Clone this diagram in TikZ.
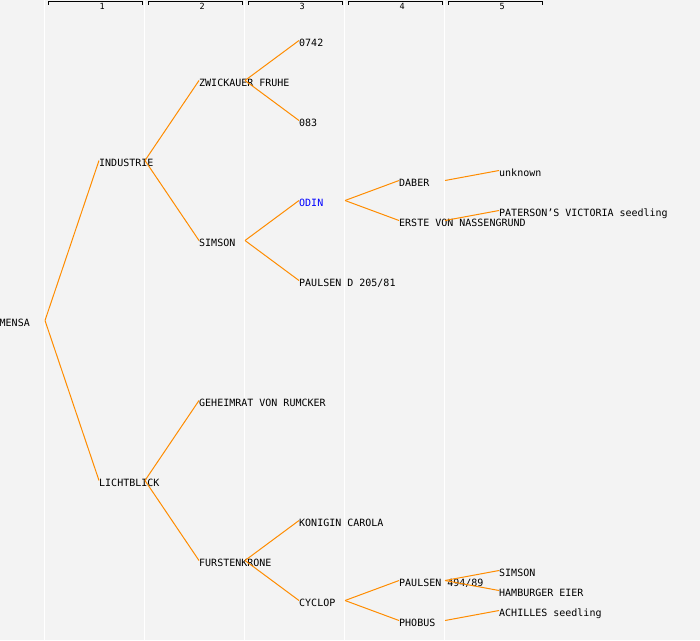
\documentclass[tikz,border=0pt]{standalone}
\usepackage{fontspec}
\setmonofont{DejaVu Sans Mono}
\definecolor{bgc}{HTML}{F3F3F3}
\definecolor{linkc}{HTML}{FF8C00}
\definecolor{odinc}{HTML}{0000FF}
\begin{document}
\begin{tikzpicture}[x=1pt,y=-1pt,
  lbl/.style={anchor=west, inner sep=0pt, text height=11pt, text depth=0pt,
    font=\ttfamily\fontsize{10}{12}\selectfont},
  num/.style={anchor=base west, inner sep=0pt, font=\ttfamily\fontsize{8.5}{9}\selectfont},
  link/.style={draw=linkc, line width=1pt},
  bracket/.style={draw=black, line width=1pt},
  colline/.style={draw=white, line width=1pt}]
\useasboundingbox (0,0) rectangle (700,640);
\fill[bgc] (0,0) rectangle (700,640);
% column separators
\foreach \x in {44.5,144.5,244.5,344.5,444.5}
  \draw[colline] (\x,0) -- (\x,640);
% header brackets and numbers
\foreach \i in {1,...,5} {
  \pgfmathsetmacro{\xa}{48.5+100*(\i-1)}
  \pgfmathsetmacro{\xb}{142.5+100*(\i-1)}
  \pgfmathsetmacro{\xn}{100*\i-0.5}
  \draw[bracket] (\xa,4.5) -- (\xa,1.5) -- (\xb,1.5) -- (\xb,4.5);
  \node[num] (h\i) at (\xn,9) {\i};
}
% generation 0
\node[lbl] (mensa) at (-0.5,320.5) {MENSA};
% generation 1
\node[lbl] (industrie) at (99,160.5) {INDUSTRIE};
\node[lbl] (lichtblick) at (99,480.5) {LICHTBLICK};
% generation 2
\node[lbl] (zwickauer) at (199,80.5) {ZWICKAUER FRUHE};
\node[lbl] (simsonA) at (199,240.5) {SIMSON};
\node[lbl] (geheimrat) at (199,400.5) {GEHEIMRAT VON RUMCKER};
\node[lbl] (furstenkrone) at (199,560.5) {FURSTENKRONE};
% generation 3
\node[lbl] (n0742) at (299,40.5) {0742};
\node[lbl] (n083) at (299,120.5) {083};
\node[lbl, text=odinc] (odin) at (299,200.5) {ODIN};
\node[lbl] (paulsenD) at (299,280.5) {PAULSEN D 205/81};
\node[lbl] (konigin) at (299,520.5) {KONIGIN CAROLA};
\node[lbl] (cyclop) at (299,600.5) {CYCLOP};
% generation 4
\node[lbl] (daber) at (399,180.5) {DABER};
\node[lbl] (erste) at (399,220.5) {ERSTE VON NASSENGRUND};
\node[lbl] (paulsen494) at (399,580.5) {PAULSEN 494/89};
\node[lbl] (phobus) at (399,620.5) {PHOBUS};
% generation 5
\node[lbl] (unknown) at (499,170.5) {unknown};
\node[lbl] (paterson) at (499,210.5) {PATERSON’S VICTORIA seedling};
\node[lbl] (simsonB) at (499,570.5) {SIMSON};
\node[lbl] (hamburger) at (499,590.5) {HAMBURGER EIER};
\node[lbl] (achilles) at (499,610.5) {ACHILLES seedling};
% connectors
\draw[link] ([xshift=45.5pt]mensa.west) -- (industrie.west);
\draw[link] ([xshift=45.5pt]mensa.west) -- (lichtblick.west);
\foreach \p/\c in {industrie/zwickauer, industrie/simsonA,
  lichtblick/geheimrat, lichtblick/furstenkrone,
  zwickauer/n0742, zwickauer/n083,
  simsonA/odin, simsonA/paulsenD,
  furstenkrone/konigin, furstenkrone/cyclop,
  odin/daber, odin/erste,
  cyclop/paulsen494, cyclop/phobus,
  daber/unknown, erste/paterson,
  paulsen494/simsonB, paulsen494/hamburger,
  phobus/achilles}
  \draw[link] ([xshift=46pt]\p.west) -- (\c.west);
\end{tikzpicture}
\end{document}
